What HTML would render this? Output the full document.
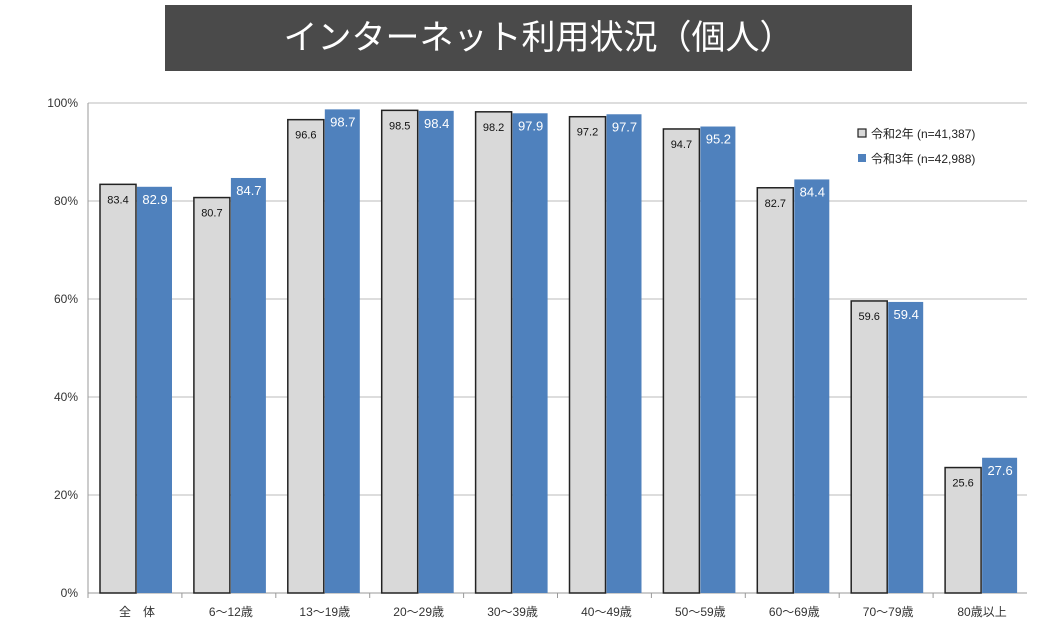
<!DOCTYPE html>
<html><head><meta charset="utf-8">
<style>
body{margin:0;width:1049px;height:637px;background:#fff;overflow:hidden;font-family:"Liberation Sans","Noto Sans CJK JP",sans-serif;}
#title{position:absolute;left:165px;top:5px;width:747px;height:66px;background:#4a4a4a;color:#fff;font-size:34px;line-height:66px;text-align:center;}
svg{position:absolute;left:0;top:0;}
</style></head><body>
<div id="title">インターネット利用状況（個人）</div>
<svg id="chart" width="1049" height="637"></svg>
<script>
const categories=["全　体","6〜12歳","13〜19歳","20〜29歳","30〜39歳","40〜49歳","50〜59歳","60〜69歳","70〜79歳","80歳以上"];
const seriesR2=[83.4,80.7,96.6,98.5,98.2,97.2,94.7,82.7,59.6,25.6];
const seriesR3=[82.9,84.7,98.7,98.4,97.9,97.7,95.2,84.4,59.4,27.6];
const yTicks=[0,20,40,60,80,100];
const legendLabels=["令和2年 (n=41,387)","令和3年 (n=42,988)"];
const NS="http://www.w3.org/2000/svg";
const svg=document.getElementById('chart');
const x0=88,x1=1027,y0=593,y100=103;
const y=v=>y0-(v/100)*(y0-y100);
const gw=(x1-x0)/categories.length;
const gx=i=>x0+i*gw;
function mk(t,a){const e=document.createElementNS(NS,t);for(const k in a)e.setAttribute(k,a[k]);svg.appendChild(e);return e;}
yTicks.forEach(t=>{
 const l=mk('line',{x1:x0,x2:x1,y1:y(t),y2:y(t),stroke:t===0?'#999':'#bbb','stroke-width':1});
 
 
 const tx=mk('text',{x:78,y:y(t)+4,'text-anchor':'end','font-size':12,fill:'#333'});
 tx.textContent=t+'%';
 
 
});
const ax=mk('line',{x1:x0,x2:x0,y1:y100,y2:y0,stroke:'#999'});


categories.forEach((c,i)=>{
 const gxL=gx(i)+12;
 const a=seriesR2[i],b=seriesR3[i];
 const r1=mk('rect',{x:gxL,y:y(a),width:36,height:y0-y(a),fill:'#d9d9d9',stroke:'#222','stroke-width':1.5});
 
 
 const r2=mk('rect',{x:gxL+37,y:y(b),width:35,height:y0-y(b),fill:'#4f81bd'});
 
 
 const t1=mk('text',{x:gxL+18,y:y(a)+19,'text-anchor':'middle','font-size':11,fill:'#111'});
 t1.textContent=a.toFixed(1);
 
 
 const t2=mk('text',{x:gxL+55,y:y(b)+17,'text-anchor':'middle','font-size':13,fill:'#fff'});
 t2.textContent=b.toFixed(1);
 
 
 const cl=mk('text',{x:gx(i)+gw/2+2,y:616,'text-anchor':'middle','font-size':12,fill:'#333'});
 cl.textContent=c;
 
 
 const tk=mk('line',{x1:gx(i),x2:gx(i),y1:y0,y2:y0+5,stroke:'#999'});
 
 
});
legendLabels.forEach((l,i)=>{
 const ly=133+i*25;
 const s=mk('rect',{x:858,y:ly-4,width:8,height:8,fill:i?'#4f81bd':'#d9d9d9',stroke:i?'none':'#222','stroke-width':1.2});
 
 
 const t=mk('text',{x:871,y:ly+5,'font-size':12,fill:'#222'});
 t.textContent=l;
 
 
});
</script>
</body></html>
